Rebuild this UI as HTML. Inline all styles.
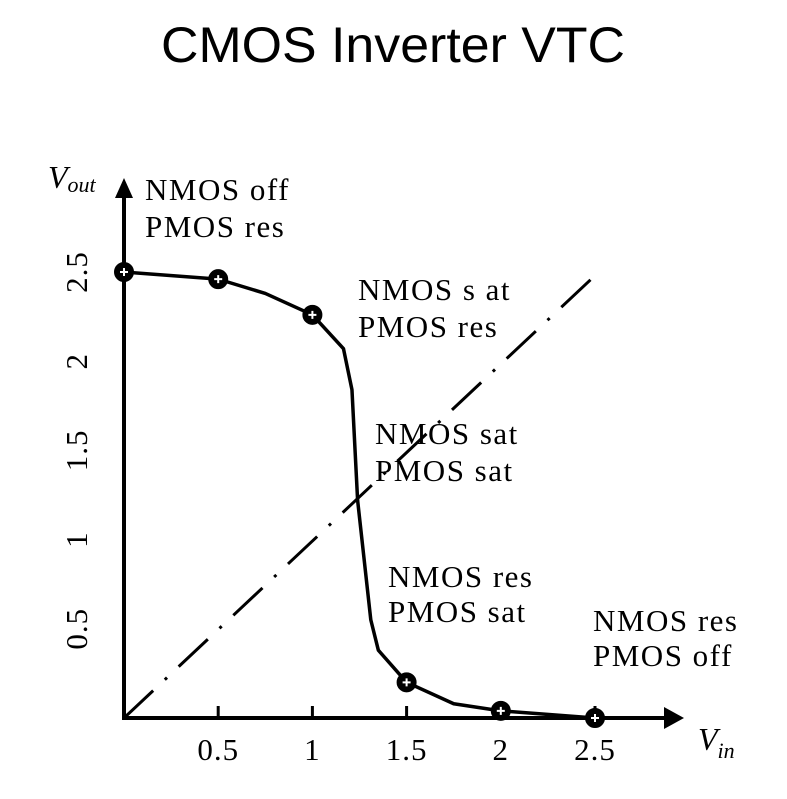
<!DOCTYPE html>
<html><head><meta charset="utf-8"><style>
body{margin:0;background:#fff;width:787px;height:799px;overflow:hidden}
svg{display:block}
text{font-family:"Liberation Serif",serif;fill:#000}
</style></head><body>
<svg width="787" height="799" viewBox="0 0 787 799">
<text x="393" y="62" text-anchor="middle" style="font-family:'Liberation Sans',sans-serif;font-size:50px" textLength="464" lengthAdjust="spacingAndGlyphs">CMOS Inverter VTC</text>
<g id="axes"></g>
<g id="plot"></g>
<text x="48" y="188" font-size="32" font-style="italic">V<tspan font-size="22" dy="4">out</tspan></text>
<text x="698" y="750" font-size="32" font-style="italic">V<tspan font-size="22" dy="8">in</tspan></text>
<g font-size="31" letter-spacing="1.5">
<text x="145" y="200">NMOS off</text>
<text x="145" y="237">PMOS res</text>
<text x="358" y="300">NMOS s at</text>
<text x="358" y="337">PMOS res</text>
<text x="375" y="444">NMOS sat</text>
<text x="375" y="481">PMOS sat</text>
<text x="388" y="587">NMOS res</text>
<text x="388" y="622">PMOS sat</text>
<text x="593" y="631">NMOS res</text>
<text x="593" y="666">PMOS off</text>
</g>
</svg>
<script>
const curveVin=[0,0.5,0.75,1,1.165,1.21,1.24,1.31,1.35,1.5,1.75,2,2.5];
const curveVout=[2.5,2.46,2.38,2.26,2.07,1.84,1.22,0.55,0.38,0.2,0.08,0.04,0];
const markerVin=[0,0.5,1,1.5,2,2.5];
const markerVout=[2.5,2.46,2.26,0.2,0.04,0];
const diagVin=[0,2.5];
const diagVout=[0,2.48];
const xTicks=[0.5,1,1.5,2,2.5];
const xTickLabels=["0.5","1","1.5","2","2.5"];
const yTicks=[0.5,1,1.5,2,2.5];
const yTickLabels=["0.5","1","1.5","2","2.5"];
const NS="http://www.w3.org/2000/svg";
const X=v=>124+v*188.4, Y=v=>718-v*178.4;
function mk(t,a,p){const e=document.createElementNS(NS,t);for(const k in a)e.setAttribute(k,a[k]);p.appendChild(e);return e;}
const ax=document.getElementById('axes'),pl=document.getElementById('plot');
let e=mk('line',{x1:124,y1:718,x2:668,y2:718,stroke:'#000','stroke-width':4},ax);

e=mk('polygon',{points:'664,707 684,718 664,729'},ax);

e=mk('line',{x1:124,y1:720,x2:124,y2:196,stroke:'#000','stroke-width':4},ax);

e=mk('polygon',{points:'115,198 124,178 133,198'},ax);

xTicks.forEach((v,i)=>{
 let t=mk('line',{x1:X(v),y1:706,x2:X(v),y2:718,stroke:'#000','stroke-width':3},ax);
 
 let l=mk('text',{x:X(v),y:760,'text-anchor':'middle','font-size':31,'letter-spacing':1},ax);l.textContent=xTickLabels[i];
 
});
yTicks.forEach((v,i)=>{
 let l=mk('text',{x:0,y:0,'text-anchor':'middle','font-size':31,'letter-spacing':1,transform:`translate(87,${Y(v)}) rotate(-90)`},ax);l.textContent=yTickLabels[i];
 
});
e=mk('line',{x1:X(diagVin[0]),y1:Y(diagVout[0]),x2:X(diagVin[1]),y2:Y(diagVout[1]),stroke:'#000','stroke-width':3,'stroke-dasharray':'40 16 3 16'},pl);

e=mk('polyline',{points:curveVin.map((v,i)=>X(v)+','+Y(curveVout[i])).join(' '),fill:'none',stroke:'#000','stroke-width':3.5,'stroke-linejoin':'round'},pl);

markerVin.forEach((v,i)=>{
 const cx=X(v),cy=Y(markerVout[i]);
 let m=mk('circle',{cx,cy,r:9,fill:'#000',stroke:'#000','stroke-width':2},pl);
 
 let w=mk('path',{d:`M${cx-4} ${cy}h8M${cx} ${cy-4}v8`,stroke:'#fff','stroke-width':2},pl);
 
});
</script>
</body></html>
